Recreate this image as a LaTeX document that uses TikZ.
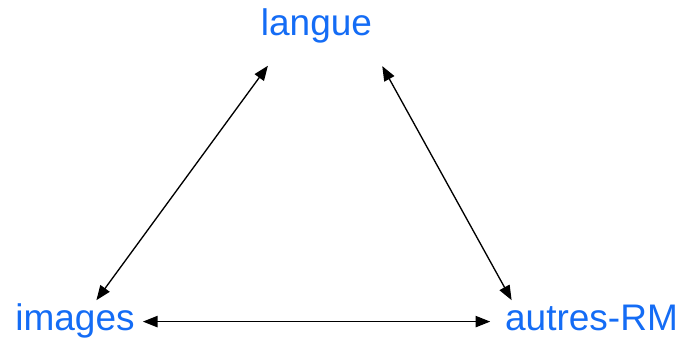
\documentclass[tikz,border=0pt]{standalone}
\usepackage{fontspec}
\setmainfont{Liberation Sans}
\usetikzlibrary{arrows.meta}
\definecolor{motbleu}{RGB}{20,108,245}
\begin{document}
\begin{tikzpicture}[x=0.75pt, y=-0.75pt, >={Triangle[length=11pt,width=8.5pt]},
    mot/.style={text=motbleu, font=\fontsize{27.75}{33}\selectfont, inner sep=3pt,
        text height=19.9pt, text depth=5.8pt, anchor=base},
    lien/.style={<->, line width=1pt}]
        \useasboundingbox (0,0) rectangle (681,341);
        
        % Sommets
        \node[mot] (langue) at (316.5,36) {langue};
        \node[mot] (images) at (75,331) {images};
        \node[mot] (autres) at (591.5,331) {autres-RM};
        
        % Liens
        \draw[lien, shorten <=16.5pt] (langue.211) -- (images.45);
        \draw[lien, shorten <=15.5pt] (langue.339.5) -- (autres.165.6);
        \draw[lien, shorten <=3pt, shorten >=8pt] (images.east) -- (autres.west);
    \end{tikzpicture}
\end{document}
